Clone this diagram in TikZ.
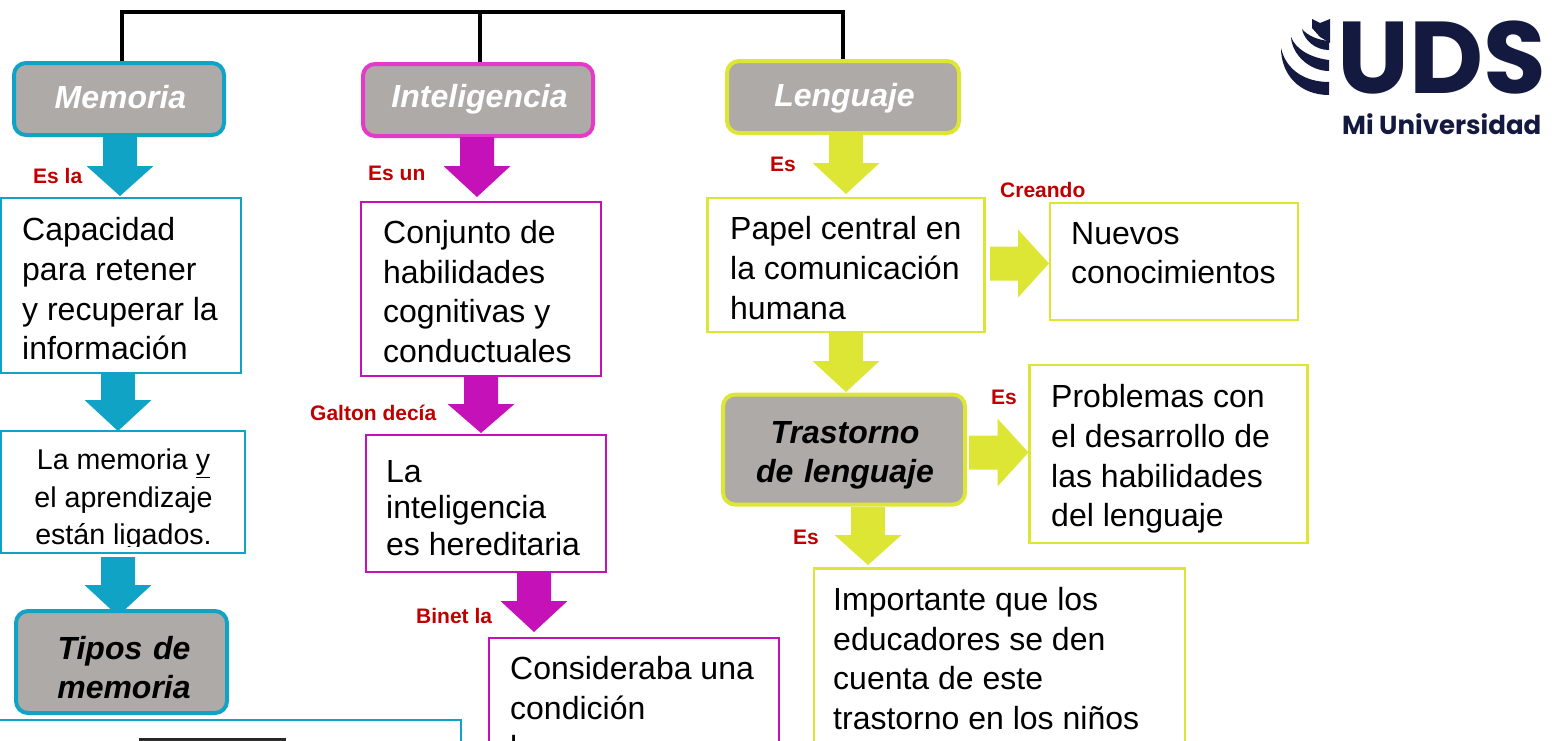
\documentclass[tikz,border=0pt]{standalone}
\usepackage{fontspec}
\setmainfont{Liberation Sans}
\newfontfamily\logofont{Poppins}
\definecolor{cblue}{HTML}{10A3C6}
\definecolor{cmag}{HTML}{C511B8}
\definecolor{cpink}{HTML}{E33BC8}
\definecolor{cyel}{HTML}{DDE635}
\definecolor{cgrey}{HTML}{AEAAA8}
\definecolor{cred}{HTML}{C00000}
\definecolor{cnavy}{HTML}{14193F}
\tikzset{
  head/.style={draw=#1,fill=cgrey,line width=4pt,rounded corners=12pt,anchor=north west,inner sep=0pt,outer sep=0pt,
    font=\fontsize{32}{39.5}\selectfont\bfseries\itshape,align=center},
  solo/.style={text height=24pt,text depth=6pt},
  tbox/.style={draw=#1,fill=white,line width=2.7pt,anchor=north west,inner sep=0pt,outer sep=0pt},
  body/.style={anchor=north west,inner sep=0pt,align=left,font=\fontsize{32}{39.7}\selectfont,
    execute at begin node={\rule{0pt}{24pt}}},
  lab/.style={text=cred,anchor=west,inner sep=0pt,font=\fontsize{21}{23}\selectfont\bfseries},
  conn/.style={line width=4pt,black}
}
% x centre, y top, y bottom, half shaft, half head, head top y
\newcommand{\barrow}[7]{\fill[#1] (#2-#5,#3) -- (#2+#5,#3) -- (#2+#5,#7) -- (#2+#6,#7) -- (#2,#4) -- (#2-#6,#7) -- (#2-#5,#7) -- cycle;}
\newcommand{\rarrow}[7]{\fill[#1] (#3,#2-#5) -- (#3,#2+#5) -- (#7,#2+#5) -- (#7,#2+#6) -- (#4,#2) -- (#7,#2-#6) -- (#7,#2-#5) -- cycle;}
\begin{document}
\begin{tikzpicture}[x=1pt,y=-1pt]
\useasboundingbox (0,0) rectangle (1567,740);
\begin{scope}
\clip (0,0) rectangle (1567,740);
% headers
\node[head=cblue,solo,text=white,minimum width=210pt,minimum height=72pt] (mem) at (14,63) {\hspace*{3pt}Memoria};
\node[head=cpink,solo,text=white,minimum width=230pt,minimum height=72pt] (int) at (363,64) {\hspace*{3pt}\raisebox{1.5pt}{Inteligencia}};
\node[head=cyel,solo,text=white,minimum width=232pt,minimum height=72pt] (len) at (727,61) {\hspace*{3pt}Lenguaje};
% top bracket
\coordinate (topm) at (121.5,61);
\coordinate (topi) at (480,62);
\coordinate (topl) at (843,59);
\coordinate (barm) at (121.5,12);
\coordinate (bari) at (480,12);
\coordinate (barl) at (843,12);
\draw[conn,line cap=butt] (topm) -- (barm) -- (barl) -- (topl);
\draw[conn] (bari) -- (topi);
% memoria column
\barrow{cblue}{120}{137}{196}{17}{33.5}{166}
\node[tbox=cblue,minimum width=240pt,minimum height=175pt] (m1) at (1,198) {};
\node[body] (m1t) at (22,217.5) {Capacidad\\para retener\\y recuperar la\\información};
\barrow{cblue}{118}{374}{431}{17}{33.5}{400}
\node[tbox=cblue,minimum width=244pt,minimum height=122pt] (m2) at (1,431) {};
\begin{scope}
\clip (0,431) rectangle (246,546);
\node[anchor=north,inner sep=0pt,align=center,font=\fontsize{28.6}{37.7}\selectfont,execute at begin node={\rule{0pt}{22pt}}] (m2t) at (123.5,448.5) {La memoria \underline{y}\\el aprendizaje\\están ligados.};
\end{scope}
\barrow{cblue}{118}{557}{616}{17}{33.5}{585}
\node[head=cblue,minimum width=211pt,minimum height=102pt,text width=211pt] (tip) at (16,611) {\rule{0pt}{34pt}\hspace*{5pt}Tipos de\\\hspace*{5pt}memoria};
\node[tbox=cblue,line width=2pt,minimum width=463pt,minimum height=60pt] (tb) at (-2,720) {};
\draw[black!85,line width=1.4pt,fill=black!80] (140,739) rectangle (285,760);
% inteligencia column
\barrow{cmag}{477}{137}{197}{17}{33.5}{166}
\node[tbox=cmag,minimum width=240pt,minimum height=174pt] (i1) at (361,202) {};
\node[body] (i1t) at (383,220) {Conjunto de\\habilidades\\cognitivas y\\conductuales};
\barrow{cmag}{481}{376}{433}{17}{33.5}{404}
\node[tbox=cmag,minimum width=240pt,minimum height=137pt] (i2) at (366,435) {};
\node[body,font=\fontsize{32}{36.6}\selectfont] (i2t) at (386,460) {La\\inteligencia\\es hereditaria};
\barrow{cmag}{534}{573}{632}{17}{33.5}{601}
\node[tbox=cmag,minimum width=290pt,minimum height=120pt] (i3) at (489,638) {};
\node[body] (i3t) at (510,656) {Consideraba una\\condición\\l};
% lenguaje column
\barrow{cyel}{846}{134}{194}{17}{33.5}{163}
\node[tbox=cyel,minimum width=277pt,minimum height=134pt] (l1) at (707.5,198) {};
\node[body] (l1t) at (730,216.5) {Papel central en\\la comunicación\\humana};
\rarrow{cyel}{263.5}{990}{1049}{17}{34}{1018}
\node[tbox=cyel,minimum width=248pt,minimum height=117pt] (l2) at (1050,203) {};
\node[body] (l2t) at (1071,222) {Nuevos\\conocimientos};
\barrow{cyel}{846}{333}{392}{17}{33.5}{361}
\node[head=cyel,minimum width=242pt,minimum height=110pt,text width=242pt] (tr) at (723,394.5) {\rule{0pt}{34pt}\hspace*{2pt}Trastorno\\\hspace*{2pt}de lenguaje};
\rarrow{cyel}{452.5}{969}{1028.5}{17}{34}{997.5}
\node[tbox=cyel,minimum width=278pt,minimum height=178pt] (l3) at (1029.5,365) {};
\node[body] (l3t) at (1051,384.5) {Problemas con\\el desarrollo de\\las habilidades\\del lenguaje};
\barrow{cyel}{868}{507}{565}{17}{33.5}{535}
\node[tbox=cyel,minimum width=371pt,minimum height=200pt] (l4) at (814,568.5) {};
\node[body] (l4t) at (833,587) {Importante que los\\educadores se den\\cuenta de este\\trastorno en los niños};
% labels
\node[lab] (a) at (33,176) {Es la};
\node[lab] (b) at (368,173) {Es un};
\node[lab] (c) at (310,413) {Galton decía};
\node[lab] (d) at (416,616) {Binet la};
\node[lab] (e) at (770,164) {Es};
\node[lab] (f) at (1000,190) {Creando};
\node[lab] (g) at (991,397) {Es};
\node[lab] (h) at (793,537) {Es};
% logo
\node[anchor=base west,inner sep=0pt,text=cnavy,font=\logofont\fontsize{102}{102}\selectfont\bfseries] (uds) at (1337,93) {UDS};
\node[anchor=base west,inner sep=0pt,text=cnavy,font=\logofont\fontsize{26}{26}\selectfont\bfseries] (mi) at (1342,134) {Mi Universidad};
\fill[cnavy] (1281,48) .. controls (1281,75) and (1300,95) .. (1329,95) -- (1329,82) .. controls (1305,82) and (1286,70) .. cycle;
\fill[cnavy] (1291,37) .. controls (1292,55) and (1310,71) .. (1329,71) -- (1329,60) .. controls (1312,58) and (1296,50) .. cycle;
\fill[cnavy] (1302,29) .. controls (1304,40) and (1315,50) .. (1329,50) -- (1329,41) .. controls (1318,40) and (1308,36) .. cycle;
\fill[cnavy] (1312,19) -- (1320,23) -- (1330,19) -- (1330,43) -- (1320,37) -- (1312,28) -- cycle;
\end{scope}
\end{tikzpicture}
\end{document}
